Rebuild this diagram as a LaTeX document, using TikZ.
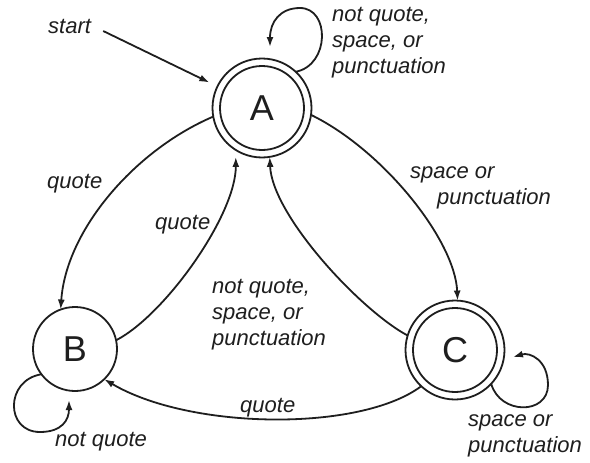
\documentclass[tikz,border=0pt]{standalone}
\usepackage{fontspec}
\setmainfont{Liberation Sans}
\usetikzlibrary{arrows.meta}
\definecolor{ink}{RGB}{30,30,30}
\begin{document}
\begin{tikzpicture}[x=1pt,y=-1pt,
  state/.style={circle,draw=ink,line width=1.8pt,minimum size=84pt,inner sep=0pt,outer sep=0pt,text=ink,font=\fontsize{36}{36}\selectfont},
  accept/.style={state,minimum size=99pt},
  edge/.style={draw=ink,line width=1.8pt,-{Latex[length=10pt,width=7pt]}},
  lbl/.style={inner sep=0pt,text=ink,font=\itshape\fontsize{22}{26}\selectfont,align=left},
]
\useasboundingbox[fill=white] (0,0) rectangle (590,463);
% states
\node[accept] (A) at (262,108) {A};
\draw[draw=ink,line width=1.8pt] (A.center) circle (42pt);
\node[state] (B) at (75,349) {B};
\node[accept] (C) at (455,350) {C};
\draw[draw=ink,line width=1.8pt] (C.center) circle (42pt);
% start
\node[lbl,anchor=base west] (start) at (48,33) {start};
\draw[edge,shorten >=9pt] ([xshift=12pt,yshift=-5pt]start.east) -- (A);
% transitions
\draw[edge] (A.190) .. controls (135,150) and (66,230) .. (B.110);
\draw[edge,shorten >=7pt] (B.12) .. controls (165,315) and (236,215) .. (A.238);
\draw[edge] (A.352) .. controls (383,150) and (455,240) .. (C.87);
\draw[edge] (C.163) .. controls (360,310) and (272,215) .. (A.279);
\draw[edge] (C.227) .. controls (360,432) and (190,430) .. (B.314);
% self loops
\coordinate (Aloop) at (270,47);
\draw[edge] (A.47) .. controls (330,65) and (330,8) .. (300,8) .. controls (280,8) and (270,22) .. (Aloop);
\coordinate (Bloop) at (69,400);
\draw[edge] (B.217) .. controls (5,380) and (5,432) .. (40,432) .. controls (62,432) and (69,420) .. (Bloop);
\coordinate (Cloop) at (513,357);
\draw[edge] (C.317) .. controls (500,415) and (548,415) .. (548,385) .. controls (548,360) and (530,352) .. (Cloop);
% labels (base anchor = baseline of last line)
\node[lbl,anchor=base west] (lA) at (332,73) {not quote,\\space, or\\punctuation};
\node[lbl,anchor=base west] (lq1) at (47,188) {quote};
\node[lbl,anchor=base west] (lq2) at (155,229) {quote};
\node[lbl,anchor=base west] (lAC) at (410,204) {space or\\\hspace*{27pt}punctuation};
\node[lbl,anchor=base west] (lCA) at (212,345) {not quote,\\space, or\\punctuation};
\node[lbl,anchor=base west] (lq3) at (240,412) {quote};
\node[lbl,anchor=base west] (lnq) at (55,446) {not quote};
\node[lbl,anchor=base west] (lC) at (468,452) {space or\\punctuation};
\end{tikzpicture}
\end{document}
